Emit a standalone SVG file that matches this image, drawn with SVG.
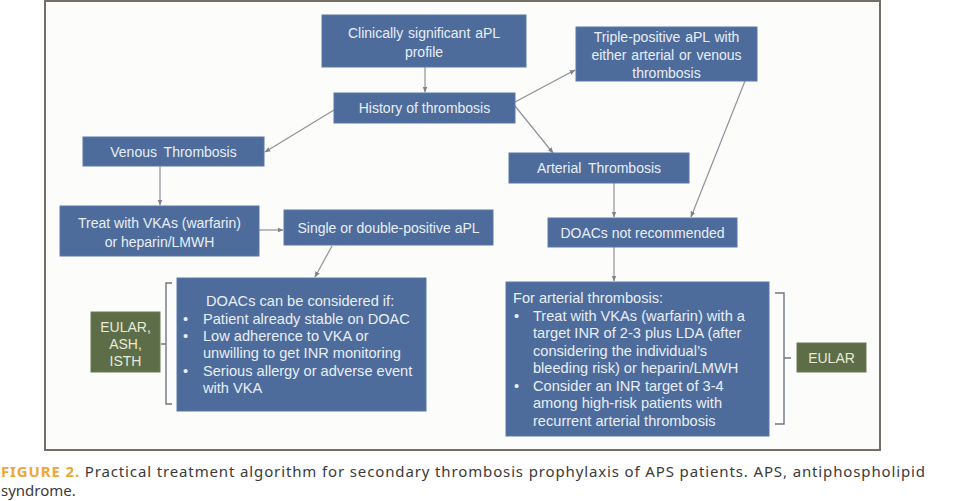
<svg xmlns="http://www.w3.org/2000/svg" width="969" height="501" viewBox="0 0 969 501">
<defs>
<style>
.box{fill:#4d6c9c;stroke:#5b79a8;stroke-width:1}
.grn{fill:#5d6d48;stroke:#6a7a55;stroke-width:1}
.t{font-family:"Liberation Sans",Arial,sans-serif;font-size:14px;fill:#e9eef5}
.b{font-size:14.6px}
.tc{text-anchor:middle}
.gt{font-family:"Liberation Sans",Arial,sans-serif;font-size:14px;fill:#e6ead9;text-anchor:middle}
.c{stroke:#8d939c;stroke-width:1.2;fill:none}
.br{stroke:#6e7782;stroke-width:1.4;fill:none}
.cap{font-family:"Noto Sans","Open Sans",sans-serif;font-size:15px;fill:#3a3a3a}
</style>
<marker id="ah" viewBox="0 0 10 10" refX="9" refY="5" markerWidth="5" markerHeight="5" orient="auto">
<path d="M0,1 L10,5 L0,9 z" fill="#7d838d"/>
</marker>
</defs>
<rect x="0" y="0" width="969" height="501" fill="#ffffff"/>
<rect x="45" y="1" width="835" height="449" fill="#fcfcfa" stroke="#756e68" stroke-width="2"/>

<g id="connectors">
<line class="c" x1="425" y1="67" x2="425" y2="92" marker-end="url(#ah)"/>
<line class="c" x1="334" y1="110" x2="265" y2="152" marker-end="url(#ah)"/>
<line class="c" x1="515" y1="102" x2="575" y2="70" marker-end="url(#ah)"/>
<line class="c" x1="515" y1="106" x2="553" y2="153" marker-end="url(#ah)"/>
<line class="c" x1="160" y1="166" x2="160" y2="205" marker-end="url(#ah)"/>
<line class="c" x1="259" y1="230" x2="283" y2="230" marker-end="url(#ah)"/>
<line class="c" x1="332" y1="246" x2="315" y2="277" marker-end="url(#ah)"/>
<line class="c" x1="614" y1="183" x2="614" y2="217" marker-end="url(#ah)"/>
<line class="c" x1="745" y1="81" x2="691" y2="217" marker-end="url(#ah)"/>
<line class="c" x1="614" y1="247" x2="614" y2="281" marker-end="url(#ah)"/>
</g>

<g id="brackets">
<path class="br" d="M172,283 L166,283 L166,404 L172,404 M166,344 L161,344"/>
<path class="br" d="M775,293 L784,293 L784,424 L775,424 M784,358 L791,358"/>
</g>

<g id="n-clinical">
<rect class="box" x="322" y="15" width="204" height="52"/>
<text class="t tc" x="424" y="38" word-spacing="1">Clinically significant aPL</text>
<text class="t tc" x="424" y="57">profile</text>
</g>

<g id="n-history">
<rect class="box" x="334" y="93" width="181" height="30"/>
<text class="t tc" x="424.5" y="113">History of thrombosis</text>
</g>

<g id="n-triple">
<rect class="box" x="576" y="27" width="181" height="54"/>
<text class="t tc" x="666.5" y="42" word-spacing="1">Triple-positive aPL with</text>
<text class="t tc" x="666.5" y="60" word-spacing="1">either arterial or venous</text>
<text class="t tc" x="666.5" y="78">thrombosis</text>
</g>

<g id="n-venous">
<rect class="box" x="83" y="137" width="181" height="29"/>
<text class="t tc" x="173.5" y="157" word-spacing="3">Venous Thrombosis</text>
</g>

<g id="n-arterial">
<rect class="box" x="509" y="153" width="180" height="30"/>
<text class="t tc" x="599" y="173" word-spacing="3">Arterial Thrombosis</text>
</g>

<g id="n-treat">
<rect class="box" x="60" y="206" width="199" height="50"/>
<text class="t tc" x="159.5" y="228">Treat with VKAs (warfarin)</text>
<text class="t tc" x="159.5" y="247">or heparin/LMWH</text>
</g>

<g id="n-single">
<rect class="box" x="284" y="210" width="209" height="35"/>
<text class="t tc" x="388.5" y="233">Single or double-positive aPL</text>
</g>

<g id="n-doacs-not">
<rect class="box" x="548" y="218" width="189" height="29"/>
<text class="t tc" x="642.5" y="238">DOACs not recommended</text>
</g>

<g id="n-doacs-considered">
<rect class="box" x="177" y="278" width="249" height="133"/>
<text class="t b" x="206" y="306">DOACs can be considered if:</text>
<text class="t b" x="183" y="323.5">•</text>
<text class="t b" x="203" y="323.5">Patient already stable on DOAC</text>
<text class="t b" x="183" y="341">•</text>
<text class="t b" x="203" y="341">Low adherence to VKA or</text>
<text class="t b" x="203" y="358">unwilling to get INR monitoring</text>
<text class="t b" x="183" y="375.5">•</text>
<text class="t b" x="203" y="375.5">Serious allergy or adverse event</text>
<text class="t b" x="203" y="393">with VKA</text>
</g>

<g id="n-eular-ash-isth">
<rect class="grn" x="91" y="312" width="69" height="60"/>
<text class="gt" x="125.5" y="332">EULAR,</text>
<text class="gt" x="125.5" y="349">ASH,</text>
<text class="gt" x="125.5" y="366">ISTH</text>
</g>

<g id="n-for-arterial">
<rect class="box" x="506" y="282" width="263" height="154"/>
<text class="t b" x="513" y="303">For arterial thrombosis:</text>
<text class="t b" x="514" y="321">•</text>
<text class="t b" x="533" y="321">Treat with VKAs (warfarin) with a</text>
<text class="t b" x="533" y="338">target INR of 2-3 plus LDA (after</text>
<text class="t b" x="533" y="355.5">considering the individual’s</text>
<text class="t b" x="533" y="373">bleeding risk) or heparin/LMWH</text>
<text class="t b" x="514" y="390.5">•</text>
<text class="t b" x="533" y="390.5">Consider an INR target of 3-4</text>
<text class="t b" x="533" y="408">among high-risk patients with</text>
<text class="t b" x="533" y="425.5">recurrent arterial thrombosis</text>
</g>

<g id="n-eular">
<rect class="grn" x="797" y="343" width="69" height="29"/>
<text class="gt" x="831.5" y="363">EULAR</text>
</g>

<g id="caption">
<text class="cap" x="1" y="477" textLength="924" lengthAdjust="spacing"><tspan font-weight="bold" fill="#eda636">FIGURE 2.</tspan> Practical treatment algorithm for secondary thrombosis prophylaxis of APS patients. APS, antiphospholipid</text>
<text class="cap" x="1" y="496">syndrome.</text>
</g>
</svg>
